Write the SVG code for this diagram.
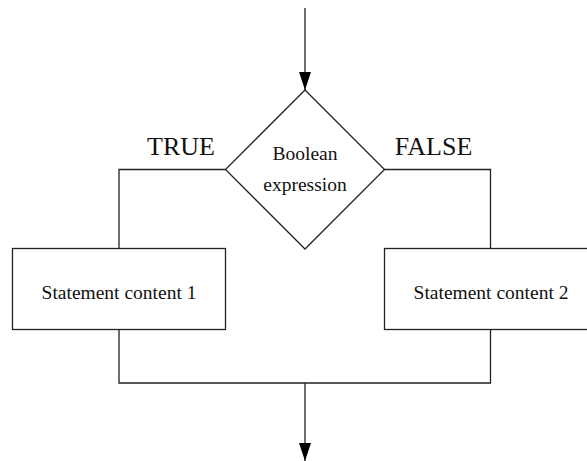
<svg xmlns="http://www.w3.org/2000/svg" width="587" height="461" viewBox="0 0 587 461">
  <defs>
    <marker id="arrow" viewBox="0 0 18 12" refX="18" refY="6" markerWidth="18" markerHeight="12" markerUnits="userSpaceOnUse" orient="auto">
      <path d="M0,0 L18,6 L0,12 Z" fill="#000"/>
    </marker>
    <style>
      .shape { fill: #fff; stroke: #222; stroke-width: 1.3; }
      .wire { fill: none; stroke: #222; stroke-width: 1.3; }
      .label { font-family: "Liberation Serif", "Times New Roman", serif; fill: #111; text-anchor: middle; }
      .big { font-size: 26px; }
      .small { font-size: 19.5px; }
    </style>
  </defs>

  <g id="connectors">
    <!-- entry into the decision -->
    <path class="wire" d="M305,8 V90" marker-end="url(#arrow)"/>
    <!-- TRUE branch -->
    <path class="wire" d="M225.5,169.5 H119 V248.5"/>
    <!-- FALSE branch -->
    <path class="wire" d="M384.5,169.5 H490.5 V248.5"/>
    <!-- merge below the statements -->
    <path class="wire" d="M119,329.5 V383 H490.5 V329.5"/>
    <path class="wire" d="M305,383 V461" marker-end="url(#arrow)"/>
  </g>

  <g id="decision">
    <polygon class="shape" points="305,90 384.5,169.5 305,249 225.5,169.5"/>
    <text class="label small" x="305" y="160">Boolean</text>
    <text class="label small" x="305" y="191">expression</text>
  </g>

  <g id="label-true">
    <text class="label big" x="181" y="155">TRUE</text>
  </g>

  <g id="label-false">
    <text class="label big" x="433.5" y="155">FALSE</text>
  </g>

  <g id="statement1">
    <rect class="shape" x="12.5" y="248.5" width="213" height="81"/>
    <text class="label small" x="119" y="298.5">Statement content 1</text>
  </g>

  <g id="statement2">
    <rect class="shape" x="384.5" y="248.5" width="213" height="81"/>
    <text class="label small" x="491" y="298.5">Statement content 2</text>
  </g>
</svg>
